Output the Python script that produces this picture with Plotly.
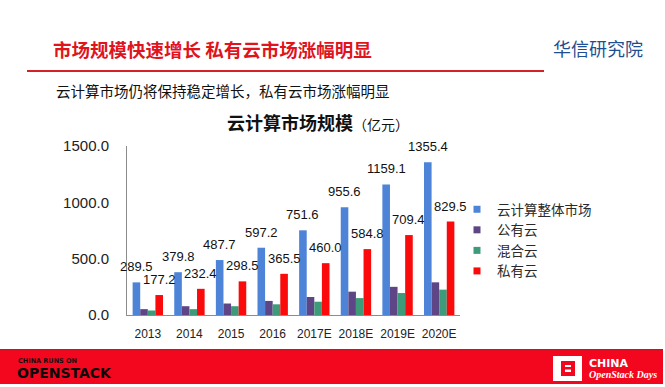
import plotly.graph_objects as go

# ---------------- data ----------------
categories = ["2013", "2014", "2015", "2016", "2017E", "2018E", "2019E", "2020E"]
total_market = [289.5, 379.8, 487.7, 597.2, 751.6, 955.6, 1159.1, 1355.4]
public_cloud = [52, 78, 102, 125, 160, 207, 250, 290]
hybrid_cloud = [40, 52, 78, 95, 118, 150, 195, 225]
private_cloud = [177.2, 232.4, 298.5, 365.5, 460.0, 584.8, 709.4, 829.5]
series_names = ["云计算整体市场", "公有云", "混合云", "私有云"]
y_ticks = [0, 500, 1000, 1500]

# ---------------- style ----------------
colors = ["#4d84d8", "#5e4686", "#3e9b79", "#fa0a0a"]
CJK = "Noto Sans CJK SC"
NUM = "Liberation Sans"

W_PX, H_PX = 665, 387
# plot area in window pixels
L, R, T, B = 127, 460, 146, 315
BARGAP = 0.27


def px(x):
    return (x - L) / (R - L)


def py(y):
    return (B - y) / (B - T)


xs = list(range(len(categories)))
series = [total_market, public_cloud, hybrid_cloud, private_cloud]

fig = go.Figure()
for name, vals, col in zip(series_names, series, colors):
    fig.add_trace(go.Bar(x=xs, y=vals, name=name, marker=dict(color=col, line=dict(width=0)),
                         showlegend=False, legendgroup=name, hoverinfo="y"))
# legend-only traces with small square symbols
for name, col in zip(series_names, colors):
    fig.add_trace(go.Scatter(x=[None], y=[None], mode="markers", name=name, legendgroup=name,
                             marker=dict(symbol="square", size=7, color=col)))

annotations = []
# data labels for total market and private cloud
bw = (1 - BARGAP) / 4
for k, vals in ((0, total_market), (3, private_cloud)):
    off = (k - 1.5) * bw
    for i, v in enumerate(vals):
        annotations.append(dict(x=i + off, y=v, xref="x", yref="y", text=f"{v:.1f}",
                                showarrow=False, yanchor="bottom", yshift=6,
                                font=dict(family=NUM, size=13, color="#111")))

# chart title
annotations.append(dict(x=px(318), y=py(122), xref="paper", yref="paper", xanchor="center", yanchor="middle",
                        text="<b>云计算市场规模</b><span style='font-size:14px'>（亿元）</span>",
                        showarrow=False, font=dict(family=CJK, size=18, color="#111")))
# slide header
annotations.append(dict(x=px(51), y=py(49), xref="paper", yref="paper", xanchor="left", yanchor="middle",
                        text="<b>市场规模快速增长 私有云市场涨幅明显</b>", showarrow=False,
                        font=dict(family=CJK, size=18.5, color="#e0141c")))
annotations.append(dict(x=px(551), y=py(48), xref="paper", yref="paper", xanchor="left", yanchor="middle",
                        text="华信研究院", showarrow=False,
                        font=dict(family=CJK, size=18, color="#1f4f8f")))
annotations.append(dict(x=px(54), y=py(90), xref="paper", yref="paper", xanchor="left", yanchor="middle",
                        text="云计算市场仍将保持稳定增长，私有云市场涨幅明显", showarrow=False,
                        font=dict(family=CJK, size=14.5, color="#111")))
# footer texts
annotations.append(dict(x=px(16), y=py(361), xref="paper", yref="paper", xanchor="left", yanchor="middle",
                        text="<b>CHINA RUNS ON</b>", showarrow=False,
                        font=dict(family="DejaVu Sans", size=6.5, color="#111")))
annotations.append(dict(x=px(15), y=py(373), xref="paper", yref="paper", xanchor="left", yanchor="middle",
                        text="<b>OPENSTACK</b>", showarrow=False,
                        font=dict(family="DejaVu Sans", size=14, color="#0a0a0a")))
annotations.append(dict(x=px(587), y=py(363), xref="paper", yref="paper", xanchor="left", yanchor="middle",
                        text="<b>CHINA</b>", showarrow=False,
                        font=dict(family="DejaVu Sans", size=11, color="#ffffff")))
annotations.append(dict(x=px(587), y=py(374), xref="paper", yref="paper", xanchor="left", yanchor="middle",
                        text="<b><i>OpenStack Days</i></b>", showarrow=False,
                        font=dict(family="Liberation Serif", size=10, color="#ffffff")))


def rect(x0, y0, x1, y1, fill):
    return dict(type="rect", xref="paper", yref="paper", x0=px(x0), x1=px(x1), y0=py(y0), y1=py(y1),
                fillcolor=fill, line=dict(width=0), layer="above")


shapes = [
    # header rule
    dict(type="line", xref="paper", yref="paper", x0=px(27), x1=px(544), y0=py(71), y1=py(71),
         line=dict(color="#d3212a", width=2)),
    # footer band
    rect(0, 349, 663, 384, "#f2071e"),
    rect(0, 349, 663, 350.5, "#d4101f"),
    # logo
    rect(553, 356, 582, 381, "#ffffff"),
    rect(561, 361, 575, 376, "#f2071e"),
    rect(565, 365, 571, 372, "#ffffff"),
    rect(561, 367, 575, 369.5, "#f2071e"),
]

fig.update_layout(
    width=W_PX, height=H_PX,
    margin=dict(l=L, r=W_PX - R, t=T, b=H_PX - B, pad=0),
    paper_bgcolor="#ffffff", plot_bgcolor="#ffffff",
    barmode="group", bargap=BARGAP, bargroupgap=0,
    showlegend=True,
    legend=dict(x=px(457), y=py(194), xanchor="left", yanchor="top", tracegroupgap=0,
                font=dict(family=CJK, size=13.5, color="#2a2a2a"), bgcolor="rgba(0,0,0,0)",
                itemclick=False),
    xaxis=dict(tickvals=xs, ticktext=categories, range=[-0.5, len(categories) - 0.5],
               showline=True, linecolor="#8c8c8c", linewidth=1, showgrid=False, zeroline=False,
               ticks="", ticklabelstandoff=8, tickfont=dict(family=NUM, size=12, color="#222")),
    yaxis=dict(range=[0, 1500], tickvals=y_ticks, tickformat=".1f",
               showline=True, linecolor="#8c8c8c", linewidth=1, showgrid=False, zeroline=False,
               ticks="", ticklabelstandoff=14, tickfont=dict(family=NUM, size=15, color="#222")),
    annotations=annotations,
    shapes=shapes,
    font=dict(family=CJK),
)

fig.write_html("out.html", config={"displayModeBar": False},
               post_script="document.body.style.margin='0';document.body.style.overflow='hidden';")
